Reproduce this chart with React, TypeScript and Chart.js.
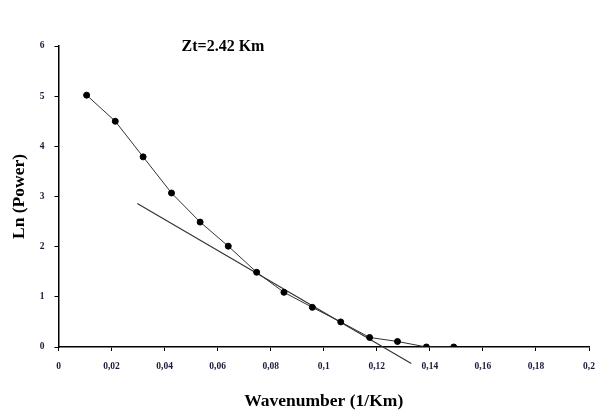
import React, { useEffect, useRef } from "react";
import { Chart, registerables } from "chart.js";

Chart.register(...registerables);

const wavenumber = [0.0106, 0.0214, 0.0319, 0.0426, 0.0534, 0.064, 0.0747, 0.085, 0.0957, 0.1064, 0.1173, 0.1278, 0.1387, 0.149];
const lnPower = [5.02, 4.5, 3.79, 3.07, 2.49, 2.01, 1.49, 1.09, 0.79, 0.5, 0.19, 0.11, 0.0, 0.0];
const fitX = [0.0297, 0.133];
const fitY = [2.86, -0.33];
const titleText = "Zt=2.42 Km";
const xTitle = "Wavenumber (1/Km)";
const yTitle = "Ln (Power)";

const SERIF = "'Liberation Serif', 'Times New Roman', serif";

export default function App() {
  const ref = useRef<HTMLCanvasElement>(null);
  useEffect(() => {
    document.body.style.margin = "0";
    const titlePlugin = {
      id: "ztTitle",
      afterDraw(chart: any) {
        const ctx = chart.ctx;
        ctx.save();
        ctx.font = `bold 16px ${SERIF}`;
        ctx.fillStyle = "#000";
        ctx.textAlign = "center";
        ctx.textBaseline = "middle";
        ctx.fillText(titleText, 223, 47);
        ctx.restore();
      },
    };
    const chart = new Chart(ref.current!, {
      type: "scatter",
      data: {
        datasets: [
          {
            data: wavenumber.map((x, i) => ({ x, y: lnPower[i] })),
            showLine: true,
            borderColor: "#333",
            borderWidth: 1,
            pointRadius: 3,
            pointBackgroundColor: "#000",
            pointBorderColor: "#000",
          },
          {
            data: fitX.map((x, i) => ({ x, y: fitY[i] })),
            showLine: true,
            borderColor: "#333",
            borderWidth: 1.2,
            pointRadius: 0,
            clip: false as any,
          },
        ],
      },
      options: {
        animation: false,
        responsive: false,
        layout: { padding: { left: 0, right: 7, top: 46, bottom: 0 } },
        plugins: { legend: { display: false }, tooltip: { enabled: false } },
        scales: {
          x: {
            type: "linear",
            min: 0,
            max: 0.2,
            afterFit: (s: any) => { s.height = 68; s.paddingRight = 0; s.paddingLeft = 0; },
            ticks: {
              stepSize: 0.02,
              padding: 10,
              color: "#1a1a3a",
              font: { family: SERIF, size: 9.5, weight: "bold" },
              callback: (v: any) => String(Math.round(Number(v) * 100) / 100).replace(".", ","),
            },
            grid: { drawOnChartArea: false, drawTicks: true, tickLength: 4, color: "#000", lineWidth: 1 },
            border: { display: true, color: "#000", width: 1.5 },
            title: {
              display: true,
              text: xTitle,
              color: "#000",
              font: { family: SERIF, size: 17.5, weight: "bold" },
              padding: { top: 0, bottom: 3 },
            },
          },
          y: {
            min: 0,
            max: 6,
            afterFit: (s: any) => { s.width = 58.5; },
            ticks: {
              stepSize: 1,
              padding: 10,
              color: "#1a1a3a",
              font: { family: SERIF, size: 9.5, weight: "bold" },
            },
            grid: { drawOnChartArea: false, drawTicks: true, tickLength: 4, color: "#000", lineWidth: 1 },
            border: { display: true, color: "#000", width: 1.5 },
            title: {
              display: true,
              text: yTitle,
              color: "#000",
              font: { family: SERIF, size: 17.5, weight: "bold" },
              padding: { top: 9, bottom: 0 },
            },
          },
        },
      },
      plugins: [titlePlugin],
    });
    return () => chart.destroy();
  }, []);
  return (
    <div style={{ position: "relative", width: 596, height: 415 }}>
      <canvas ref={ref} width={596} height={415} style={{ display: "block" }} />
    </div>
  );
}
